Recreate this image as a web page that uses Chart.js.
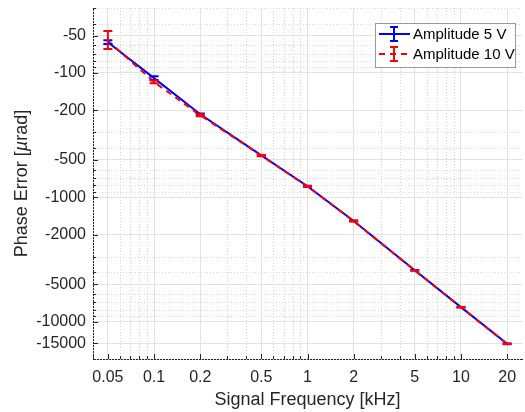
<!DOCTYPE html>
<html>
<head>
<meta charset="utf-8">
<title>Phase Error</title>
<script src="https://cdn.jsdelivr.net/npm/chart.js@4/dist/chart.umd.min.js"></script>
<style>
html, body { margin: 0; padding: 0; background: #fff; }
#wrap { width: 525px; height: 412px; }
</style>
</head>
<body>
<div id="wrap"><canvas id="chart-area" width="525" height="412"></canvas></div>
<script>
// phase error vs signal frequency, two drive amplitudes

var frequencies = [0.05, 0.1, 0.2, 0.5, 1, 2, 5, 10, 20];          // kHz
var phase5V = [-56.5, -110, -215, -460, -815, -1550, -3870, -7650, -15100];   // urad
var err5V = [2, 4, 3, 4, 6, 10, 20, 35, 60];
var phase10V = [-55, -118, -219, -462, -818, -1555, -3880, -7680, -15150];
var err10V = [9, 3, 4, 5, 8, 12, 25, 40, 80];
var seriesLabels = ['Amplitude 5 V', 'Amplitude 10 V'];

var xTicks = [0.05, 0.1, 0.2, 0.5, 1, 2, 5, 10, 20];
var xMinor = [0.04, 0.06, 0.07, 0.08, 0.09, 0.3, 0.4, 0.6, 0.7, 0.8, 0.9, 3, 4, 6, 7, 8, 9];
var yTicks = [-50, -100, -200, -500, -1000, -2000, -5000, -10000, -15000];
var yMinor = [-30, -40, -60, -70, -80, -90, -300, -400, -600, -700, -800, -900,
	-3000, -4000, -6000, -7000, -8000, -9000, -20000];

var FONT = "'Liberation Sans', Arial, Helvetica, sans-serif";
var AXIS = '#262626';

var toPoints = function(vals) {
	return frequencies.map(function(f, i) {
		return { x: f, y: Math.abs(vals[i]) };   // log axis runs on |phase|
	});
};

// dotted minor grid + inward tick marks like the original plot
var minorGrid = {
	id: 'minorGrid',
	beforeDatasetsDraw: function(chart) {
		var ctx = chart.ctx, a = chart.chartArea;
		var xs = chart.scales.x, ys = chart.scales.y;
		ctx.save();
		ctx.lineWidth = 1;
		ctx.strokeStyle = '#d6d6d6';
		ctx.setLineDash([1, 2]);
		xMinor.forEach(function(v) {
			var px = Math.round(xs.getPixelForValue(v)) + 0.5;
			ctx.beginPath(); ctx.moveTo(px, a.top); ctx.lineTo(px, a.bottom); ctx.stroke();
		});
		yMinor.forEach(function(v) {
			var py = Math.round(ys.getPixelForValue(Math.abs(v))) + 0.5;
			ctx.beginPath(); ctx.moveTo(a.left, py); ctx.lineTo(a.right, py); ctx.stroke();
		});
		ctx.setLineDash([]);
		ctx.strokeStyle = AXIS;
		xTicks.concat(xMinor).forEach(function(v, i) {
			var px = Math.round(xs.getPixelForValue(v)) + 0.5;
			var len = i < xTicks.length ? 5 : 3;
			ctx.beginPath(); ctx.moveTo(px, a.bottom); ctx.lineTo(px, a.bottom - len); ctx.stroke();
		});
		yTicks.concat(yMinor).forEach(function(v, i) {
			var py = Math.round(ys.getPixelForValue(Math.abs(v))) + 0.5;
			var len = i < yTicks.length ? 5 : 3;
			ctx.beginPath(); ctx.moveTo(a.left, py); ctx.lineTo(a.left + len, py); ctx.stroke();
		});
		ctx.restore();
	}
};

var errorBars = {
	id: 'errorBars',
	afterDatasetsDraw: function(chart) {
		var ctx = chart.ctx, xs = chart.scales.x, ys = chart.scales.y;
		chart.data.datasets.forEach(function(ds) {
			ctx.save();
			ctx.strokeStyle = ds.borderColor;
			ctx.lineWidth = 2;
			ds.data.forEach(function(p, j) {
				var e = ds.errors[j];
				var x = xs.getPixelForValue(p.x);
				var yTop = ys.getPixelForValue(p.y - e);
				var yBot = ys.getPixelForValue(p.y + e);
				ctx.beginPath();
				ctx.moveTo(x, yTop); ctx.lineTo(x, yBot);
				ctx.moveTo(x - 4.5, yTop); ctx.lineTo(x + 4.5, yTop);
				ctx.moveTo(x - 4.5, yBot); ctx.lineTo(x + 4.5, yBot);
				ctx.stroke();
			});
			ctx.restore();
		});
	}
};

// y title drawn by hand so the mu can be italic (TeX style)
var yTitle = {
	id: 'yTitle',
	afterDraw: function(chart) {
		var ctx = chart.ctx, a = chart.chartArea;
		var parts = [['Phase Error [', ''], ['\u00b5', 'italic '], ['rad]', '']];
		ctx.save();
		ctx.translate(22, (a.top + a.bottom) / 2);
		ctx.rotate(-Math.PI / 2);
		ctx.fillStyle = AXIS;
		ctx.textBaseline = 'middle';
		var total = 0;
		parts.forEach(function(p) {
			ctx.font = p[1] + '18px ' + FONT;
			total += ctx.measureText(p[0]).width;
		});
		var x = -total / 2;
		parts.forEach(function(p) {
			ctx.font = p[1] + '18px ' + FONT;
			ctx.fillText(p[0], x, 0);
			x += ctx.measureText(p[0]).width;
		});
		ctx.restore();
	}
};

var legendBox = {
	id: 'legendBox',
	afterDraw: function(chart) {
		var ctx = chart.ctx, a = chart.chartArea;
		var w = 140, h = 44;
		var x = a.right - 7 - w, y = a.top + 15;
		ctx.save();
		ctx.fillStyle = '#fff';
		ctx.fillRect(x, y, w, h);
		ctx.strokeStyle = '#999';
		ctx.lineWidth = 1;
		ctx.strokeRect(x + 0.5, y + 0.5, w, h);
		chart.data.datasets.forEach(function(ds, i) {
			var cy = y + 11 + i * 20;
			ctx.strokeStyle = ds.borderColor;
			ctx.lineWidth = 2;
			ctx.setLineDash(ds.borderDash || []);
			ctx.beginPath(); ctx.moveTo(x + 4, cy); ctx.lineTo(x + 35, cy); ctx.stroke();
			ctx.setLineDash([]);
			var cx = x + 19;
			ctx.beginPath();
			ctx.moveTo(cx, cy - 7); ctx.lineTo(cx, cy + 7);
			ctx.moveTo(cx - 4, cy - 7); ctx.lineTo(cx + 4, cy - 7);
			ctx.moveTo(cx - 4, cy + 7); ctx.lineTo(cx + 4, cy + 7);
			ctx.stroke();
			ctx.fillStyle = '#000';
			ctx.font = '15px ' + FONT;
			ctx.textBaseline = 'middle';
			ctx.fillText(ds.label, x + 38, cy + 1);
		});
		ctx.restore();
	}
};

var config = {
	type: 'line',
	data: {
		datasets: [{
			label: seriesLabels[0],
			data: toPoints(phase5V),
			errors: err5V,
			borderColor: '#0000ff',
			borderWidth: 2,
			pointRadius: 0,
			fill: false,
			order: 1
		}, {
			label: seriesLabels[1],
			data: toPoints(phase10V),
			errors: err10V,
			borderColor: '#ff0000',
			borderWidth: 2,
			borderDash: [6, 5],
			pointRadius: 0,
			fill: false,
			order: 0
		}]
	},
	options: {
		responsive: false,
		animation: false,
		layout: { padding: { top: 8, right: 3, left: 0, bottom: 0 } },
		plugins: {
			legend: { display: false },
			tooltip: { enabled: false }
		},
		scales: {
			x: {
				type: 'logarithmic',
				min: 0.04,
				max: 25,
				afterBuildTicks: function(scale) {
					scale.ticks = xTicks.map(function(v) { return { value: v }; });
				},
				afterFit: function(scale) {
					scale.height = 53;
					scale.paddingLeft = 0;
					scale.paddingRight = 0;
				},
				grid: { color: '#e2e2e2', drawTicks: false },
				border: { color: AXIS, width: 1 },
				ticks: {
					autoSkip: false,
					maxRotation: 0,
					padding: 9,
					color: AXIS,
					font: { size: 16, family: FONT },
					callback: function(v) { return String(v); }
				},
				title: {
					display: true,
					text: 'Signal Frequency [kHz]',
					color: AXIS,
					font: { size: 18, family: FONT },
					padding: { top: 0, bottom: 1 }
				}
			},
			y: {
				type: 'logarithmic',
				reverse: true,
				min: 30,
				max: 20000,
				afterBuildTicks: function(scale) {
					scale.ticks = yTicks.map(function(v) { return { value: Math.abs(v) }; });
				},
				afterFit: function(scale) {
					scale.width = 93;
					scale.paddingTop = 0;
					scale.paddingBottom = 0;
				},
				grid: { color: '#e2e2e2', drawTicks: false },
				border: { color: AXIS, width: 1 },
				ticks: {
					autoSkip: false,
					padding: 7,
					color: AXIS,
					font: { size: 16, family: FONT },
					callback: function(v) { return '-' + v; }
				},
				title: { display: false }
			}
		}
	},
	plugins: [minorGrid, errorBars, yTitle, legendBox]
};

var ctx = document.getElementById('chart-area').getContext('2d');
window.phaseChart = new Chart(ctx, config);
</script>
</body>
</html>
